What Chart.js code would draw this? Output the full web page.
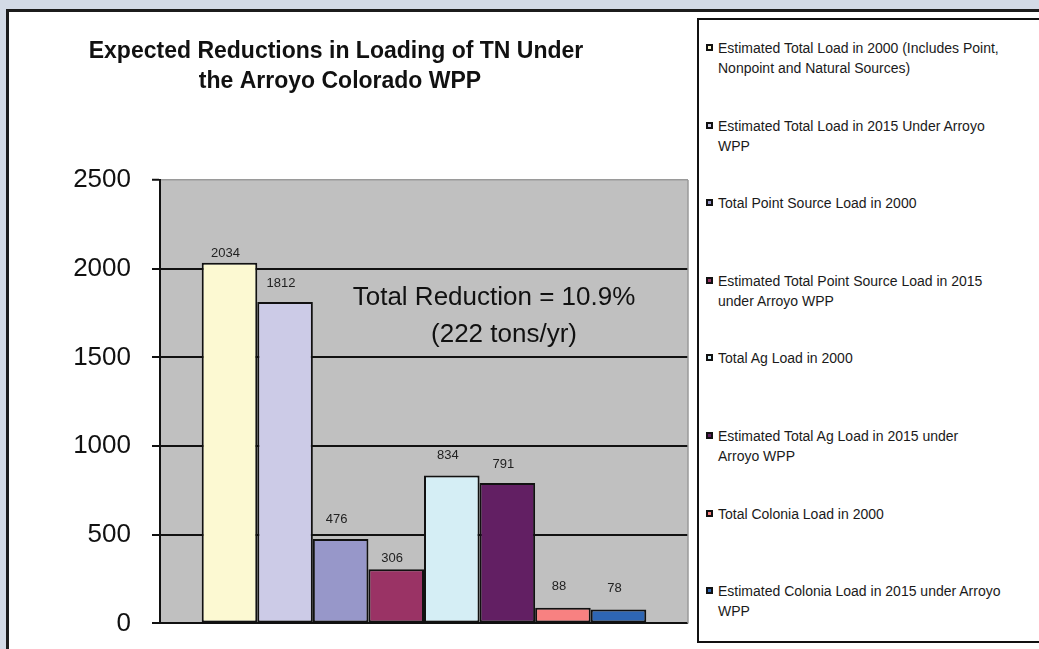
<!DOCTYPE html>
<html>
<head>
<meta charset="utf-8">
<script src="https://cdn.jsdelivr.net/npm/chart.js@4"></script>
<style>
  html, body { margin: 0; padding: 0; background: #d3dae6; }
  #page {
    width: 1039px;
    height: 649px;
    overflow: hidden;
    position: relative;
    background: #d3dae6;
    font-family: "Liberation Sans", Arial, sans-serif;
  }
  .panel {
    position: absolute;
    left: 6px;
    top: 9px;
    width: 1100px;
    height: 700px;
    background: #fff;
    border-top: 3px solid #1c1c1c;
    border-left: 3px solid #1c1c1c;
  }
  .legend-box {
    position: absolute;
    left: 697px;
    top: 18px;
    width: 400px;
    height: 621px;
    border: 2px solid #111;
    background: #fff;
  }
  .legend-item {
    position: absolute;
    left: 718px;
    font-size: 14px;
    line-height: 20px;
    color: #1a1a1a;
    white-space: nowrap;
  }
  .legend-mark {
    position: absolute;
    left: -12px;
    top: 6px;
    width: 3px;
    height: 3px;
    border: 2px solid #111;
  }
  #chart {
    position: absolute;
    left: 0;
    top: 0;
  }
</style>
</head>
<body>
<div id="page">
  <div class="panel"></div>
  <div class="legend-box"></div>
  <div id="legend"></div>
  <canvas id="chart" width="697" height="660"></canvas>
</div>

<script>
const categories = ['TN'];

const seriesNames = [
  ['Estimated Total Load in 2000 (Includes Point,', 'Nonpoint and Natural Sources)'],
  ['Estimated Total Load in 2015 Under Arroyo', 'WPP'],
  ['Total Point Source Load in 2000'],
  ['Estimated Total Point Source Load in 2015', 'under Arroyo WPP'],
  ['Total Ag Load in 2000'],
  ['Estimated Total Ag Load in 2015 under', 'Arroyo WPP'],
  ['Total Colonia Load in 2000'],
  ['Estimated Colonia Load in 2015 under Arroyo', 'WPP']
];

const seriesValues = [2034, 1812, 476, 306, 834, 791, 88, 78];

const seriesColors = ['#fcf9d2', '#cccbe7', '#9797c9', '#9a3365', '#d5eef5', '#621f63', '#f88181', '#2e66b4'];

const yTicks = [0, 500, 1000, 1500, 2000, 2500];

const titleLines = ['Expected Reductions in Loading of TN Under', 'the Arroyo Colorado WPP'];
const noteLines = ['Total Reduction = 10.9%', '(222 tons/yr)'];

// how far above the bar top each value label sits (px)
const labelLift = [9, 19, 20, 11, 20, 19, 21, 21];

const FONT = '"Liberation Sans", Arial, sans-serif';

// legend, built from the series arrays
const legend = document.getElementById('legend');
seriesNames.forEach((lines, i) => {
  const item = document.createElement('div');
  item.className = 'legend-item';
  item.style.top = (38 + i * 77.6) + 'px';
  const mark = document.createElement('span');
  mark.className = 'legend-mark';
  mark.style.background = seriesColors[i];
  item.appendChild(mark);
  item.appendChild(document.createTextNode(lines[0]));
  for (let k = 1; k < lines.length; k++) {
    item.appendChild(document.createElement('br'));
    item.appendChild(document.createTextNode(lines[k]));
  }
  legend.appendChild(item);
});

const plotBackground = {
  id: 'plotBackground',
  beforeDraw(chart) {
    const { ctx, chartArea } = chart;
    ctx.save();
    ctx.fillStyle = '#c0c0c0';
    ctx.fillRect(chartArea.left, chartArea.top, chartArea.right - chartArea.left, chartArea.bottom - chartArea.top);
    ctx.restore();
  },
  beforeDatasetsDraw(chart) {
    const { ctx, chartArea } = chart;
    ctx.save();
    ctx.strokeStyle = '#9a9a9a';
    ctx.lineWidth = 1.5;
    ctx.beginPath();
    ctx.moveTo(chartArea.right, chartArea.top);
    ctx.lineTo(chartArea.right, chartArea.bottom);
    ctx.stroke();
    ctx.restore();
  }
};

const valueLabels = {
  id: 'valueLabels',
  afterDatasetsDraw(chart) {
    const ctx = chart.ctx;
    ctx.save();
    ctx.font = '13px ' + FONT;
    ctx.fillStyle = '#222';
    ctx.textAlign = 'center';
    ctx.textBaseline = 'middle';
    chart.data.datasets.forEach((ds, i) => {
      const bar = chart.getDatasetMeta(i).data[0];
      ctx.fillText(String(ds.data[0]), bar.x - 4, bar.y - labelLift[i]);
    });
    ctx.restore();
  }
};

const texts = {
  id: 'texts',
  afterDraw(chart) {
    const ctx = chart.ctx;
    ctx.save();
    ctx.fillStyle = '#111';
    ctx.textAlign = 'center';
    ctx.textBaseline = 'alphabetic';
    ctx.font = 'bold 23px ' + FONT;
    ctx.fillText(titleLines[0], 336, 58);
    ctx.fillText(titleLines[1], 340, 88);
    ctx.font = '26px ' + FONT;
    ctx.fillText(noteLines[0], 494, 305);
    ctx.fillText(noteLines[1], 504, 342);
    ctx.restore();
  }
};

new Chart(document.getElementById('chart'), {
  type: 'bar',
  data: {
    labels: categories,
    datasets: seriesValues.map((v, i) => ({
      label: seriesNames[i].join(' '),
      data: [v],
      backgroundColor: seriesColors[i],
      borderColor: '#111',
      borderWidth: 2,
      borderSkipped: false
    }))
  },
  options: {
    responsive: false,
    animation: false,
    devicePixelRatio: 1,
    layout: { padding: { left: 0, right: 9, top: 180, bottom: 26 } },
    datasets: {
      bar: { categoryPercentage: 0.842, barPercentage: 1 }
    },
    plugins: {
      legend: { display: false },
      title: { display: false },
      tooltip: { enabled: false }
    },
    scales: {
      x: { display: false },
      y: {
        min: 0,
        max: 2500,
        afterBuildTicks(scale) {
          scale.ticks = yTicks.map(v => ({ value: v }));
        },
        afterFit(scale) {
          scale.width = 160;
        },
        ticks: {
          color: '#111',
          padding: 21,
          font: { family: FONT, size: 26 },
          callback: v => String(v)
        },
        grid: {
          color: c => (c.tick && c.tick.value === 2500 ? '#9a9a9a' : '#111'),
          lineWidth: c => (c.tick && c.tick.value === 2500 ? 1.5 : 2),
          tickLength: 8,
          tickColor: '#111',
          tickWidth: 2
        },
        border: { color: '#111', width: 2 }
      }
    }
  },
  plugins: [plotBackground, valueLabels, texts]
});
</script>
</body>
</html>
